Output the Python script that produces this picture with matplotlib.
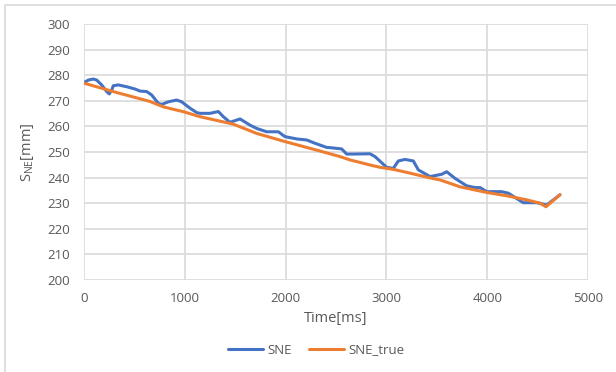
import matplotlib
matplotlib.use('Agg')
import matplotlib.pyplot as plt
from matplotlib.patches import Rectangle

# data
sne_t = [0, 43, 92, 126, 175, 225, 251, 275, 291, 341, 423, 506, 556, 622, 671,
         737, 771, 837, 919, 969, 1052, 1118, 1151, 1250, 1333, 1382, 1448, 1548,
         1647, 1713, 1812, 1928, 1994, 2110, 2209, 2292, 2407, 2440, 2556, 2606,
         2672, 2837, 2887, 3003, 3069, 3118, 3185, 3267, 3317, 3433, 3549, 3598,
         3681, 3796, 3879, 3929, 3995, 4144, 4210, 4358, 4491, 4590, 4722]
sne_v = [277.1, 278.1, 278.5, 278.1, 276.2, 273.6, 272.7, 274.2, 275.9, 276.2,
         275.5, 274.6, 273.8, 273.6, 272.3, 269.0, 268.6, 269.6, 270.3, 269.6,
         267.1, 265.4, 265.1, 265.1, 265.8, 263.8, 261.6, 262.9, 260.5, 259.2,
         257.9, 257.9, 256.0, 255.1, 254.7, 253.4, 251.8, 251.7, 251.2, 249.2,
         249.2, 249.3, 248.2, 244.0, 243.6, 246.5, 247.1, 246.5, 243.0, 240.4,
         241.3, 242.3, 239.7, 236.8, 236.1, 236.1, 234.5, 234.5, 233.9, 230.2,
         230.2, 229.3, 233.3]

true_t = [0, 290, 650, 790, 990, 1150, 1480, 1710, 2000, 2340, 2540, 2640, 2840,
          2940, 3070, 3240, 3430, 3532, 3730, 3995, 4193, 4392, 4524, 4583, 4722]
true_v = [276.9, 273.6, 269.8, 267.6, 265.7, 263.8, 260.9, 257.3, 254.0, 250.4,
          248.2, 246.9, 244.9, 244.0, 243.2, 241.7, 239.9, 239.1, 236.4, 234.2,
          232.9, 231.3, 230.0, 228.6, 233.3]

plt.rcParams['font.family'] = ['Open Sans', 'DejaVu Sans']
txt = '#595959'
grid = '#D9D9D9'

fig = plt.figure(figsize=(6.16, 3.72), dpi=100)
fig.patches.append(Rectangle((5/616, -0.1), 1.2, 1 - 5/372 + 0.1, transform=fig.transFigure,
                             fill=False, edgecolor=grid, linewidth=1.2))
ax = fig.add_axes([84/616, 1 - 280/372, 504/616, 256/372])

ax.plot(sne_t, sne_v, color='#4472C4', linewidth=2.2, label='SNE',
        solid_joinstyle='round', solid_capstyle='round')
ax.plot(true_t, true_v, color='#ED7D31', linewidth=2.2, label='SNE_true',
        solid_joinstyle='round', solid_capstyle='round')

ax.set_xlim(0, 5000)
ax.set_ylim(200, 300)
ax.set_xticks(range(0, 5001, 1000))
ax.set_yticks(range(200, 301, 10))
ax.grid(True, color=grid, linewidth=1.2)
ax.set_axisbelow(True)
for s in ax.spines.values():
    s.set_visible(False)
ax.tick_params(length=0, labelcolor=txt, labelsize=9.5)
ax.tick_params(axis='y', pad=10)
ax.tick_params(axis='x', pad=9)

ax.set_xlabel('Time[ms]', color=txt, fontsize=10.5, labelpad=4)
ax.set_ylabel(r'$\mathregular{S_{NE}}$[mm]', color=txt, fontsize=10.5, labelpad=8)

leg = fig.legend(loc='center', bbox_to_anchor=(0.513, 1 - 350/372), ncol=2, frameon=False,
                 fontsize=9.5, handlelength=2.7, handletextpad=0.3, columnspacing=1.3,
                 labelcolor=txt)

fig.savefig('out.png', dpi=100)
